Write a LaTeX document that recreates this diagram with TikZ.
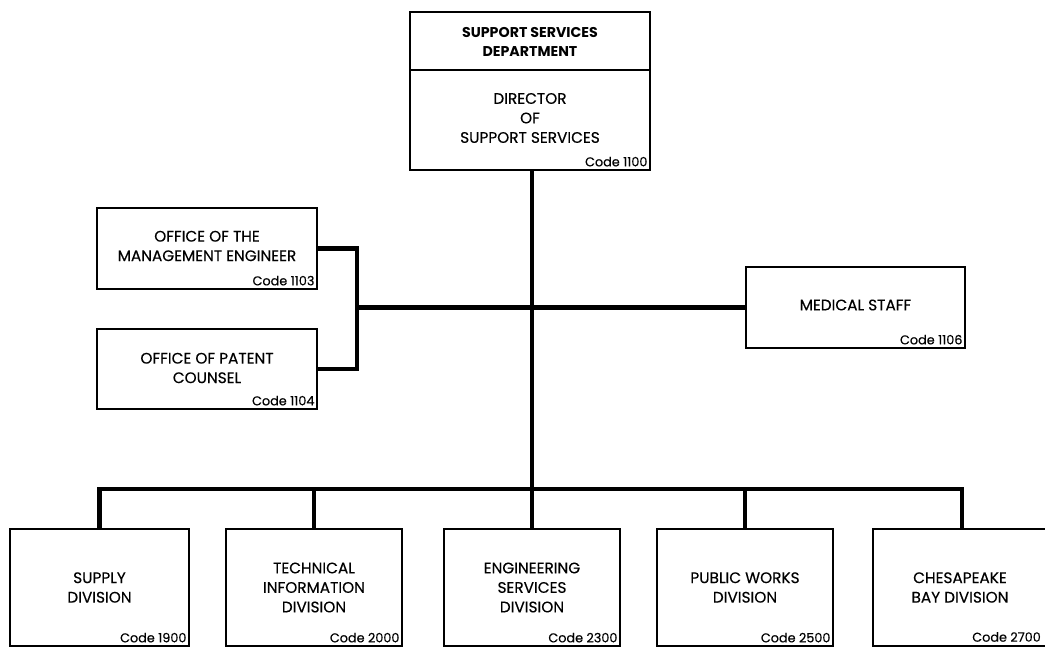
\documentclass[tikz,border=0pt]{standalone}
\usepackage{fontspec}
\setmainfont{Poppins}
\newfontfamily\lblfont{Poppins}[FakeBold=0.35]
\begin{document}
\begin{tikzpicture}[x=1pt,y=-1pt,
  box/.style={draw, line width=1.3pt, inner sep=0pt},
  conn/.style={line width=4.5pt},
  lbl/.style={align=center, inner sep=0pt, font=\lblfont\fontsize{15.3}{19.5}\selectfont},
  boldlbl/.style={align=center, inner sep=0pt, font=\bfseries\fontsize{14.2}{19}\selectfont},
  code/.style={anchor=south east, inner sep=0pt, xshift=-3pt, yshift=4pt, font=\lblfont\fontsize{12.8}{14}\selectfont}]
\useasboundingbox (0,0) rectangle (1045,648);

% boxes
\node[box, minimum width=240pt, minimum height=158pt] (top) at (530,91) {};
\coordinate (divL) at (410,70);
\coordinate (divR) at (650,70);
\draw[line width=1.3pt] (divL) -- (divR);
\node[boldlbl] (dept) at (530,42) {SUPPORT SERVICES\\DEPARTMENT};
\node[lbl] (dir) at (530,118) {DIRECTOR\\OF\\SUPPORT SERVICES};
\node[code] (c1100) at (top.south east) {Code 1100};

\node[box, minimum width=220pt, minimum height=81pt] (mgmt) at (207,248.5) {};
\node[lbl] (mgmtt) at (207,246) {OFFICE OF THE\\MANAGEMENT ENGINEER};
\node[code] (c1103) at (mgmt.south east) {Code 1103};

\node[box, minimum width=220pt, minimum height=80pt] (pat) at (207,369) {};
\node[lbl] (patt) at (207,368) {OFFICE OF PATENT\\COUNSEL};
\node[code] (c1104) at (pat.south east) {Code 1104};

\node[box, minimum width=219pt, minimum height=81pt] (med) at (855.5,307.5) {};
\node[lbl] (medt) at (855.5,305) {MEDICAL STAFF};
\node[code] (c1106) at (med.south east) {Code 1106};

\node[box, minimum width=179pt, minimum height=117pt] (sup) at (99.5,587.5) {};
\node[lbl] (supt) at (99.5,587.5) {SUPPLY\\DIVISION};
\node[code] (c1900) at (sup.south east) {Code 1900};

\node[box, minimum width=176pt, minimum height=117pt] (tech) at (314,587.5) {};
\node[lbl] (techt) at (314,587.5) {TECHNICAL\\INFORMATION\\DIVISION};
\node[code] (c2000) at (tech.south east) {Code 2000};

\node[box, minimum width=176pt, minimum height=117pt] (eng) at (532,587.5) {};
\node[lbl] (engt) at (532,587.5) {ENGINEERING\\SERVICES\\DIVISION};
\node[code] (c2300) at (eng.south east) {Code 2300};

\node[box, minimum width=176pt, minimum height=117pt] (pub) at (745,587.5) {};
\node[lbl] (pubt) at (745,587.5) {PUBLIC WORKS\\DIVISION};
\node[code] (c2500) at (pub.south east) {Code 2500};

\node[box, minimum width=178pt, minimum height=117pt] (ches) at (962,587.5) {};
\node[lbl] (chest) at (960,587.5) {CHESAPEAKE\\BAY DIVISION};
\node[code, xshift=-1pt] (c2700) at (1045,646) {Code 2700};

% connectors
\coordinate (bus) at (532,489);
\coordinate (brk) at (357,307.5);
\draw[conn] (top.south -| eng.north) -- (eng.north);
\draw[conn] (sup.north) -- (sup.north |- bus) -- (ches.north |- bus) -- (ches.north);
\draw[conn] (tech.north) -- (tech.north |- bus);
\draw[conn] (pub.north) -- (pub.north |- bus);
\draw[conn] (brk) -- (med.west);
\draw[conn] (mgmt.east) -- (mgmt.east -| brk) -- (pat.east -| brk) -- (pat.east);
\end{tikzpicture}
\end{document}
